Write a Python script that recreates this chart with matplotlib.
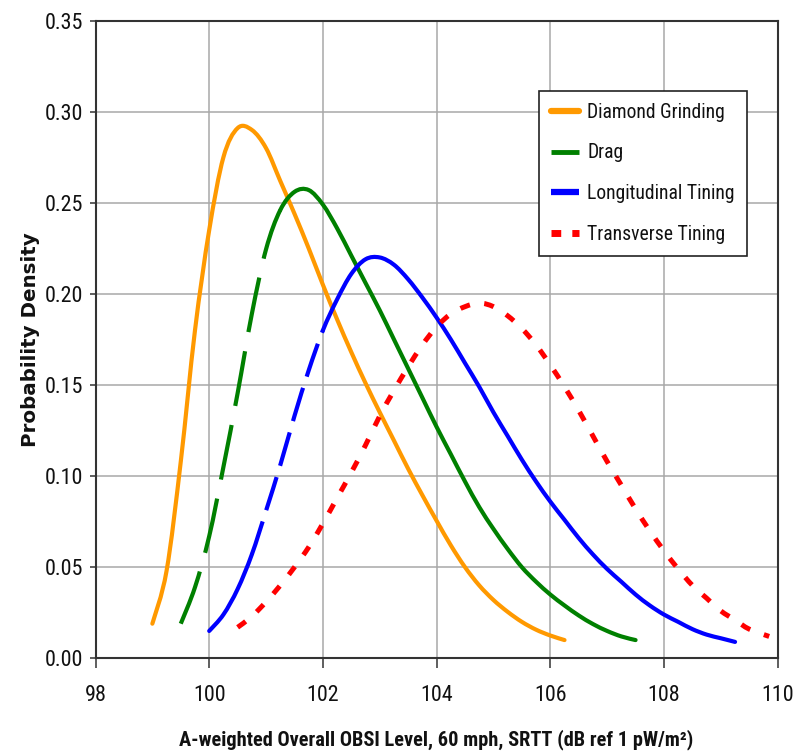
import matplotlib
matplotlib.use("Agg")
import matplotlib.pyplot as plt
from matplotlib.lines import Line2D
from matplotlib.path import Path
from matplotlib.patches import PathPatch
from matplotlib.font_manager import FontProperties, fontManager
from matplotlib.textpath import TextToPath
import numpy as np

plt.rcParams['lines.scale_dashes'] = False

# ---- data: probability density of A-weighted OBSI level by texture ----
series_names = ["Diamond Grinding", "Drag", "Longitudinal Tining", "Transverse Tining"]

diamond_x = [99.00, 99.25, 99.50, 99.75, 100.00, 100.25, 100.50, 100.75, 101.00, 101.25,
             101.50, 101.75, 102.00, 102.25, 102.50, 102.75, 103.00, 103.25, 103.50, 103.75,
             104.00, 104.25, 104.50, 104.75, 105.00, 105.25, 105.50, 105.75, 106.00, 106.25]
diamond_y = [0.019, 0.048, 0.108, 0.180, 0.235, 0.275, 0.291, 0.290, 0.280, 0.262,
             0.244, 0.225, 0.205, 0.186, 0.168, 0.151, 0.135, 0.1195, 0.104, 0.0895,
             0.0755, 0.062, 0.050, 0.040, 0.032, 0.0255, 0.020, 0.0157, 0.0125, 0.010]

drag_x = [99.50, 99.75, 100.00, 100.25, 100.50, 100.75, 101.00, 101.25, 101.50, 101.75,
          102.00, 102.25, 102.50, 102.75, 103.00, 103.25, 103.50, 103.75, 104.00, 104.25,
          104.50, 104.75, 105.00, 105.25, 105.50, 105.75, 106.00, 106.25, 106.50, 106.75,
          107.00, 107.25, 107.50]
drag_y = [0.019, 0.039, 0.067, 0.105, 0.1455, 0.189, 0.2245, 0.246, 0.256, 0.257,
          0.249, 0.236, 0.221, 0.206, 0.191, 0.175, 0.159, 0.143, 0.127, 0.112,
          0.097, 0.083, 0.071, 0.060, 0.050, 0.042, 0.035, 0.029, 0.0235, 0.0188,
          0.0150, 0.012, 0.010]

long_x = [100.00, 100.25, 100.50, 100.75, 101.00, 101.25, 101.50, 101.75, 102.00, 102.25,
          102.50, 102.75, 103.00, 103.25, 103.50, 103.75, 104.00, 104.25, 104.50, 104.75,
          105.00, 105.25, 105.50, 105.75, 106.00, 106.25, 106.50, 106.75, 107.00, 107.25,
          107.50, 107.75, 108.00, 108.25, 108.50, 108.75, 109.00, 109.25]
long_y = [0.015, 0.024, 0.038, 0.057, 0.081, 0.106, 0.133, 0.158, 0.180, 0.197,
          0.211, 0.219, 0.220, 0.216, 0.208, 0.198, 0.187, 0.175, 0.162, 0.149,
          0.135, 0.122, 0.109, 0.097, 0.086, 0.076, 0.066, 0.057, 0.049, 0.042,
          0.035, 0.029, 0.024, 0.020, 0.016, 0.013, 0.011, 0.009]

trans_x = [100.50, 100.75, 101.00, 101.25, 101.50, 101.75, 102.00, 102.25, 102.50, 102.75,
           103.00, 103.25, 103.50, 103.75, 104.00, 104.25, 104.50, 104.75, 105.00, 105.25,
           105.50, 105.75, 106.00, 106.25, 106.50, 106.75, 107.00, 107.25, 107.50, 107.75,
           108.00, 108.25, 108.50, 108.75, 109.00, 109.25, 109.50, 109.85]
trans_y = [0.017, 0.023, 0.031, 0.040, 0.050, 0.061, 0.074, 0.088, 0.102, 0.117,
           0.133, 0.147, 0.160, 0.172, 0.182, 0.189, 0.193, 0.195, 0.193, 0.188,
           0.181, 0.172, 0.161, 0.149, 0.136, 0.122, 0.108, 0.095, 0.082, 0.070,
           0.059, 0.049, 0.040, 0.033, 0.026, 0.021, 0.016, 0.012]

x_ticks = [98, 100, 102, 104, 106, 108, 110]
y_ticks = [0.00, 0.05, 0.10, 0.15, 0.20, 0.25, 0.30, 0.35]

# ---- fonts: prefer a narrow Arial-like face, fall back to Liberation Sans ----
names = {f.name for f in fontManager.ttflist}
condensed = {f.name for f in fontManager.ttflist if f.stretch in ('condensed', 'semi-condensed')}
FAMILY = ['Liberation Sans']
STRETCH = 'normal'
for cand in ['Liberation Sans Narrow', 'Arial Narrow', 'Roboto Condensed',
             'Noto Sans Condensed', 'Open Sans Condensed']:
    if cand in names:
        FAMILY = [cand, 'Liberation Sans']
        break
else:
    for cand in ['Roboto', 'Noto Sans', 'Open Sans']:
        if cand in condensed:
            FAMILY = [cand, 'Liberation Sans']
            STRETCH = 'condensed'
            break
plt.rcParams['font.family'] = FAMILY + ['DejaVu Sans']
plt.rcParams['font.stretch'] = STRETCH

_t2p = TextToPath()


def fit_size(text, width_px, cap_px, weight='normal', w_share=0.65):
    """Font size (pt) balancing a target width and a target cap height."""
    prop = FontProperties(family=FAMILY, weight=weight, stretch=STRETCH, size=10)
    w, _, _ = _t2p.get_text_width_height_descent(text, prop, ismath=False)
    size_w = 10 * width_px / (w * 100 / 72)
    size_h = cap_px / (0.716 * 100 / 72)
    return w_share * size_w + (1 - w_share) * size_h


TICK_FS = fit_size("0.35", 37, 17)
LEG_FS = fit_size("Diamond Grinding", 135, 17, w_share=0.9)
XLAB_FS = fit_size("A-weighted Overall OBSI Level, 60 mph, SRTT (dB ref 1 pW/m\u00b2)",
                   502, 18, weight='bold', w_share=0.9)

# ---- styling ----
C_ORANGE = "#FF9900"
C_GREEN = "#008000"
C_BLUE = "#0000FF"
C_RED = "#FF0000"
LW = 3.0
LONG_DASH = (0, (40, 14))
SHORT_DASH = (0, (25, 8.5))
DOTS = (0, (7.2, 10.5))

fig = plt.figure(figsize=(8.05, 7.52), dpi=100)
ax = fig.add_axes([95.5 / 805, 1 - 658.3 / 752, (777.7 - 95.5) / 805, (658.3 - 20.6) / 752])


def smooth_path(x, y, i0, i1):
    """Smoothed (Catmull-Rom style Bezier) path through points i0..i1."""
    pts = np.column_stack([x, y]).astype(float)
    n = len(pts)
    verts = [pts[i0]]
    codes = [Path.MOVETO]
    for i in range(i0, i1):
        p0 = pts[max(i - 1, 0)]
        p1 = pts[i]
        p2 = pts[i + 1]
        p3 = pts[min(i + 2, n - 1)]
        verts += [p1 + (p2 - p0) / 6.0, p2 - (p3 - p1) / 6.0, p2]
        codes += [Path.CURVE4] * 3
    return Path(verts, codes)


def draw_curve(x, y, lo, hi, color, lw=LW, ls='-', cap='round'):
    xs = np.asarray(x)
    i0 = int(np.argmin(np.abs(xs - lo)))
    i1 = int(np.argmin(np.abs(xs - hi)))
    patch = PathPatch(smooth_path(x, y, i0, i1), fill=False, edgecolor=color,
                      lw=lw, linestyle=ls, capstyle=cap, joinstyle='round')
    ax.add_patch(patch)


# Diamond Grinding: solid
draw_curve(diamond_x, diamond_y, 99.0, 106.25, C_ORANGE)

# Drag: long dashes on the rising limb, solid afterwards
draw_curve(drag_x, drag_y, 99.5, 101.25, C_GREEN, ls=LONG_DASH, cap='butt')
draw_curve(drag_x, drag_y, 101.25, 107.5, C_GREEN)

# Longitudinal Tining: solid foot, dashed rise, solid tail
draw_curve(long_x, long_y, 100.0, 100.75, C_BLUE)
draw_curve(long_x, long_y, 100.75, 102.0, C_BLUE, ls=SHORT_DASH, cap='butt')
draw_curve(long_x, long_y, 102.0, 109.25, C_BLUE)

# Transverse Tining: dotted
draw_curve(trans_x, trans_y, 100.5, 109.85, C_RED, lw=3.6, ls=DOTS, cap='butt')

# ---- axes ----
ax.set_xlim(98, 110)
ax.set_ylim(0, 0.35)
ax.set_xticks(x_ticks)
ax.set_xticklabels([str(v) for v in x_ticks])
ax.set_yticks(y_ticks)
ax.set_yticklabels([f"{v:.2f}" for v in y_ticks])
ax.grid(True, color='#a8a8a8', lw=1.1)
ax.set_axisbelow(True)
for s in ax.spines.values():
    s.set_color('#333333')
    s.set_linewidth(1.5)
ax.tick_params(axis='y', direction='out', length=4.5, width=1.1, pad=4.5,
               labelsize=TICK_FS, colors='#333333', labelcolor='#111111')
ax.tick_params(axis='x', direction='out', length=7, width=1.1, pad=12,
               labelsize=TICK_FS, colors='#333333', labelcolor='#111111')

ax.set_xlabel("A-weighted Overall OBSI Level, 60 mph, SRTT (dB ref 1 pW/m\u00b2)",
              fontsize=XLAB_FS, fontweight='bold', color='#111111')
ax.xaxis.set_label_coords(0.5, -0.112)
ax.set_ylabel("Probability Density", fontsize=14.3, fontweight='bold',
              family=['DejaVu Sans'], fontstretch='normal', color='#111111')
ax.yaxis.set_label_coords(-0.082, 0.5)

handles = [
    Line2D([], [], color=C_ORANGE, lw=4.5, solid_capstyle='round'),
    Line2D([], [], color=C_GREEN, lw=3.5, solid_capstyle='butt'),
    Line2D([], [], color=C_BLUE, lw=4.5, solid_capstyle='butt'),
    Line2D([], [], color=C_RED, lw=5, linestyle=(0, (7, 8)), dash_capstyle='butt'),
]
leg = ax.legend(handles, series_names, loc='upper left', bbox_to_anchor=(0.650, 0.890),
                borderaxespad=0, frameon=True, fancybox=False, framealpha=1,
                edgecolor='#222222', fontsize=LEG_FS, handlelength=1.45,
                handletextpad=0.4, labelspacing=1.1, borderpad=0.62)
leg.get_frame().set_linewidth(1.2)
for t in leg.get_texts():
    t.set_color('#111111')

fig.savefig("out.png", dpi=100)
